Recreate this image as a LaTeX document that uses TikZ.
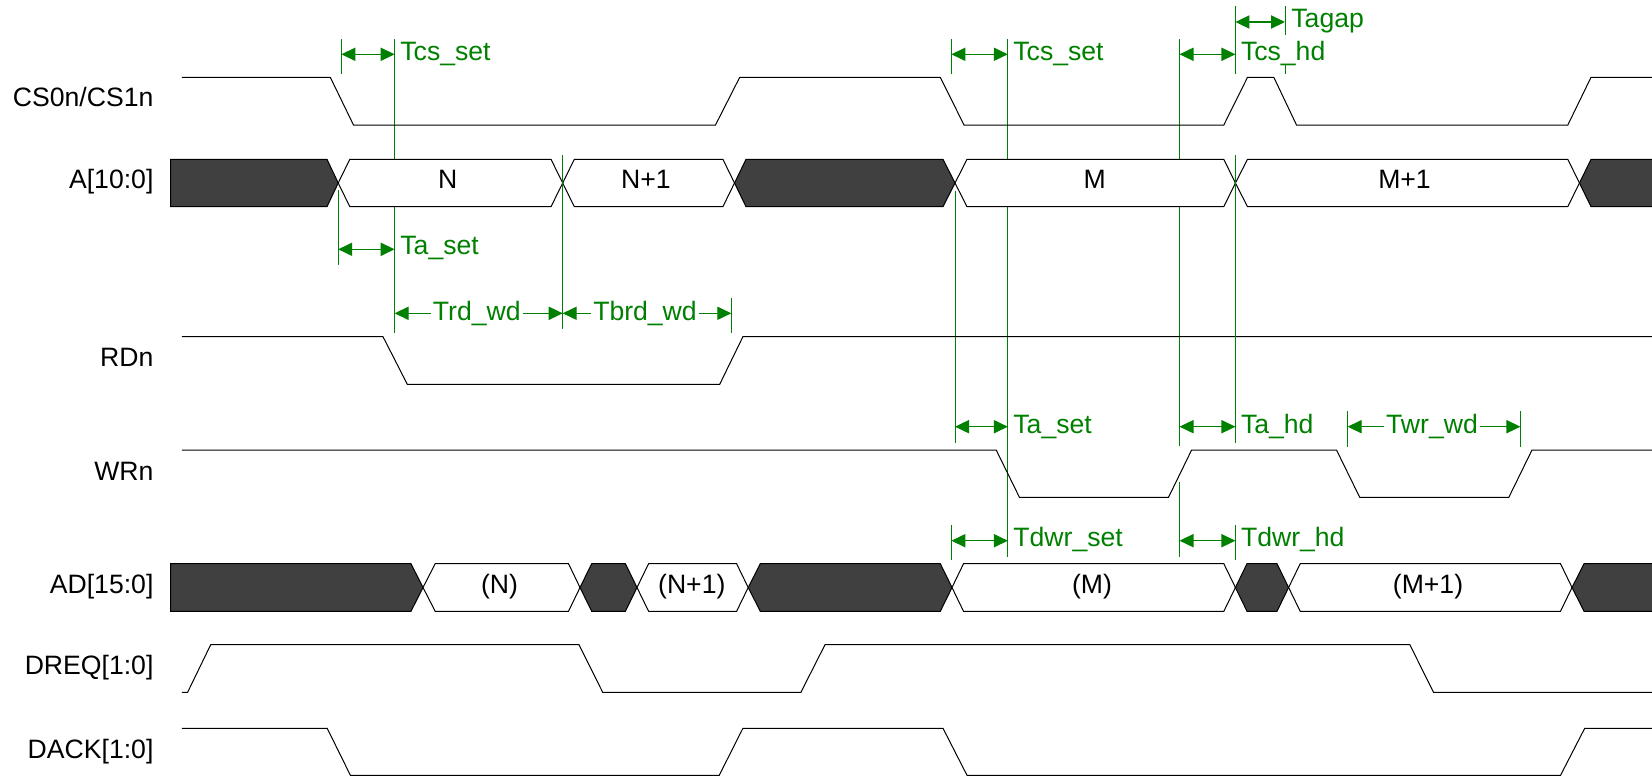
\documentclass[tikz,border=0pt]{standalone}
\usepackage{fontspec}
\setmainfont{Liberation Sans}
\usetikzlibrary{arrows.meta}

\definecolor{dimgreen}{RGB}{0,128,0}

\begin{document}
\begin{tikzpicture}[x=0.5pt,y=-0.5pt,>={Triangle[length=7pt,width=6.6pt]},
  sig/.style={line width=0.5pt,black},
  busdark/.style={line width=0.5pt,draw=black,fill=black!75},
  buslight/.style={line width=0.5pt,draw=black,fill=white},
  guide/.style={line width=0.5pt,dimgreen},
  dim/.style={line width=0.6pt,dimgreen,<->},
  siglabel/.style={anchor=base east,inner sep=0pt,font=\fontsize{13.3}{15}\selectfont},
  buslabel/.style={anchor=base,inner sep=0pt,font=\fontsize{13.3}{15}\selectfont},
  dimlabel/.style={anchor=base west,inner sep=0pt,text=dimgreen,font=\fontsize{13.3}{15}\selectfont},
  dimmid/.style={anchor=base,inner sep=1pt,fill=white,text=dimgreen,font=\fontsize{13.3}{15}\selectfont}]
\useasboundingbox (0,0) rectangle (1652,776);

%vodilne crte
\coordinate (g1) at (338.2,0);
\coordinate (g2) at (341.4,0);
\coordinate (g3) at (394.6,0);
\coordinate (g4) at (562.7,0);
\coordinate (g5) at (731.3,0);
\coordinate (g6) at (951.4,0);
\coordinate (g7) at (955,0);
\coordinate (g8) at (1007.8,0);
\coordinate (g9) at (1179.5,0);
\coordinate (g10) at (1235.4,0);
\coordinate (g11) at (1285,0);
\coordinate (g12) at (1347.6,0);
\coordinate (g13) at (1520.4,0);

\draw[guide] (g2 |- 0,39)--(g2 |- 0,74.3);
\draw[guide] (g3 |- 0,39)--(g3 |- 0,333.3);
\draw[guide] (g1 |- 0,190)--(g1 |- 0,265);
\draw[guide] (g5 |- 0,298)--(g5 |- 0,333.3);
\draw[guide] (g6 |- 0,39)--(g6 |- 0,74.3);
\draw[guide] (g6 |- 0,525)--(g6 |- 0,560);
\draw[guide] (g7 |- 0,190.7)--(g7 |- 0,442.7);
\draw[guide] (g8 |- 0,39)--(g8 |- 0,556.7);
\draw[guide] (g9 |- 0,39)--(g9 |- 0,446);
\draw[guide] (g9 |- 0,481.7)--(g9 |- 0,556.7);
\draw[guide] (g10 |- 0,6)--(g10 |- 0,74.3);
\draw[guide] (g10 |- 0,525)--(g10 |- 0,560);
\draw[guide] (g11 |- 0,6)--(g11 |- 0,35);
\draw[guide] (g11 |- 0,65)--(g11 |- 0,74.3);
\draw[guide] (g12 |- 0,411)--(g12 |- 0,446.7);
\draw[guide] (g13 |- 0,411)--(g13 |- 0,446.7);

%signali
\draw[sig] (181.8,77.3)--(330.3,77.3)--(353.5,125)--(715.5,125)--(739.7,77.3)--(940.3,77.3)--(964,125)--(1223.8,125)--(1247.5,77.3)--(1273.8,77.3)--(1296.5,125)--(1567.8,125)--(1591,77.3)--(1652,77.3);
\draw[sig] (181.8,336.7)--(383,336.7)--(407.3,384.3)--(719.7,384.3)--(742.9,336.7)--(1652,336.7);
\draw[sig] (181.8,450)--(996.2,450)--(1019.4,497.3)--(1168.5,497.3)--(1191.6,450)--(1336.5,450)--(1359.7,497.3)--(1508.8,497.3)--(1532,450)--(1652,450);
\draw[sig] (181.8,692.3)--(187.6,692.3)--(210.7,644.7)--(579,644.7)--(602.7,692.3)--(800.9,692.3)--(825,644.7)--(1409.8,644.7)--(1433.5,692.3)--(1652,692.3);
\draw[sig] (181.8,728.3)--(327.2,728.3)--(350.4,775.3)--(719.2,775.3)--(742.9,728.3)--(943,728.3)--(967,775.3)--(1560.5,775.3)--(1584.7,728.3)--(1652,728.3);

%A
\draw[busdark] (170.7,159.3)--(327,159.3)--(338.2,183)--(327,206.7)--(170.7,206.7)--cycle;
\draw[buslight] (338.2,183)--(349.8,159.3)--(551,159.3)--(562.7,183)--(551,206.7)--(349.8,206.7)--cycle;
\draw[buslight] (562.7,183)--(574.3,159.3)--(722.9,159.3)--(734.5,183)--(722.9,206.7)--(574.3,206.7)--cycle;
\draw[busdark] (734.5,183)--(746,159.3)--(943,159.3)--(955,183)--(943,206.7)--(746,206.7)--cycle;
\draw[buslight] (955,183)--(967,159.3)--(1223.8,159.3)--(1235.4,183)--(1223.8,206.7)--(967,206.7)--cycle;
\draw[buslight] (1235.4,183)--(1247.5,159.3)--(1567.8,159.3)--(1579.4,183)--(1567.8,206.7)--(1247.5,206.7)--cycle;
\draw[busdark] (1579.4,183)--(1591,159.3)--(1660,159.3)--(1660,206.7)--(1591,206.7)--cycle;

%AD
\draw[busdark] (170.7,563.7)--(411,563.7)--(423,587.5)--(411,611.3)--(170.7,611.3)--cycle;
\draw[buslight] (423,587.5)--(435.2,563.7)--(568.5,563.7)--(580,587.5)--(568.5,611.3)--(435.2,611.3)--cycle;
\draw[busdark] (580,587.5)--(591.7,563.7)--(625.4,563.7)--(637,587.5)--(625.4,611.3)--(591.7,611.3)--cycle;
\draw[buslight] (637,587.5)--(648.6,563.7)--(736.6,563.7)--(748.2,587.5)--(736.6,611.3)--(648.6,611.3)--cycle;
\draw[busdark] (748.2,587.5)--(760.3,563.7)--(940.3,563.7)--(952,587.5)--(940.3,611.3)--(760.3,611.3)--cycle;
\draw[buslight] (952,587.5)--(963.5,563.7)--(1223.8,563.7)--(1235.4,587.5)--(1223.8,611.3)--(963.5,611.3)--cycle;
\draw[busdark] (1235.4,587.5)--(1247,563.7)--(1277,563.7)--(1288.6,587.5)--(1277,611.3)--(1247,611.3)--cycle;
\draw[buslight] (1288.6,587.5)--(1300.2,563.7)--(1560.5,563.7)--(1572,587.5)--(1560.5,611.3)--(1300.2,611.3)--cycle;
\draw[busdark] (1572,587.5)--(1584,563.7)--(1660,563.7)--(1660,611.3)--(1584,611.3)--cycle;

%crte cez vodilo A
\draw[guide] (g4 |- 0,155)--(g4 |- 0,329.3);
\draw[guide] (g10 |- 0,155)--(g10 |- 0,443);

%puscice
\draw[dim] (g2 |- 0,54.3)--(g3 |- 0,54.3);
\draw[dim] (g1 |- 0,249.3)--(g3 |- 0,249.3);
\draw[dim] (g3 |- 0,313.3)--(g4 |- 0,313.3);
\draw[dim] (g4 |- 0,313.3)--(g5 |- 0,313.3);
\draw[dim] (g6 |- 0,54.3)--(g8 |- 0,54.3);
\draw[dim] (g9 |- 0,54.3)--(g10 |- 0,54.3);
\draw[dim] (g10 |- 0,22)--(g11 |- 0,22);
\draw[dim] (g7 |- 0,426.7)--(g8 |- 0,426.7);
\draw[dim] (g9 |- 0,426.7)--(g10 |- 0,426.7);
\draw[dim] (g12 |- 0,426.7)--(g13 |- 0,426.7);
\draw[dim] (g6 |- 0,540.7)--(g8 |- 0,540.7);
\draw[dim] (g9 |- 0,540.7)--(g10 |- 0,540.7);

%imena signalov
\node[siglabel] (lblcs) at (153.8,106) {CS0n/CS1n};
\node[siglabel] (lbla) at (153.8,188.5) {A[10:0]};
\node[siglabel] (lblrd) at (153.8,366) {RDn};
\node[siglabel] (lblwr) at (153.8,480) {WRn};
\node[siglabel] (lblad) at (153.8,593.5) {AD[15:0]};
\node[siglabel] (lbldreq) at (153.8,674.5) {DREQ[1:0]};
\node[siglabel] (lbldack) at (153.8,758.5) {DACK[1:0]};

\node[buslabel] (an) at (447.8,188.5) {N};
\node[buslabel] (anp) at (646,188.5) {N+1};
\node[buslabel] (am) at (1094.7,188.5) {M};
\node[buslabel] (amp) at (1404.5,188.5) {M+1};
\node[buslabel] (adn) at (499.5,593.5) {(N)};
\node[buslabel] (adnp) at (691.8,593.5) {(N+1)};
\node[buslabel] (adm) at (1092,593.5) {(M)};
\node[buslabel] (admp) at (1428,593.5) {(M+1)};

%casi
\node[dimlabel] (tcsa) at (400,60) {Tcs\_set};
\node[dimlabel] (tasa) at (400,254.5) {Ta\_set};
\node[dimmid] (trd) at (476.8,320) {Trd\_wd};
\node[dimmid] (tbrd) at (645,320) {Tbrd\_wd};
\node[dimlabel] (tcsb) at (1013,60) {Tcs\_set};
\node[dimlabel] (tcshd) at (1240.6,60) {Tcs\_hd};
\node[dimlabel] (tagap) at (1291,27.5) {Tagap};
\node[dimlabel] (tasb) at (1013,433) {Ta\_set};
\node[dimlabel] (tahd) at (1240.6,433) {Ta\_hd};
\node[dimmid] (twr) at (1432,433) {Twr\_wd};
\node[dimlabel] (tdwrs) at (1013,546.7) {Tdwr\_set};
\node[dimlabel] (tdwrh) at (1240.6,546.7) {Tdwr\_hd};
\end{tikzpicture}
\end{document}
